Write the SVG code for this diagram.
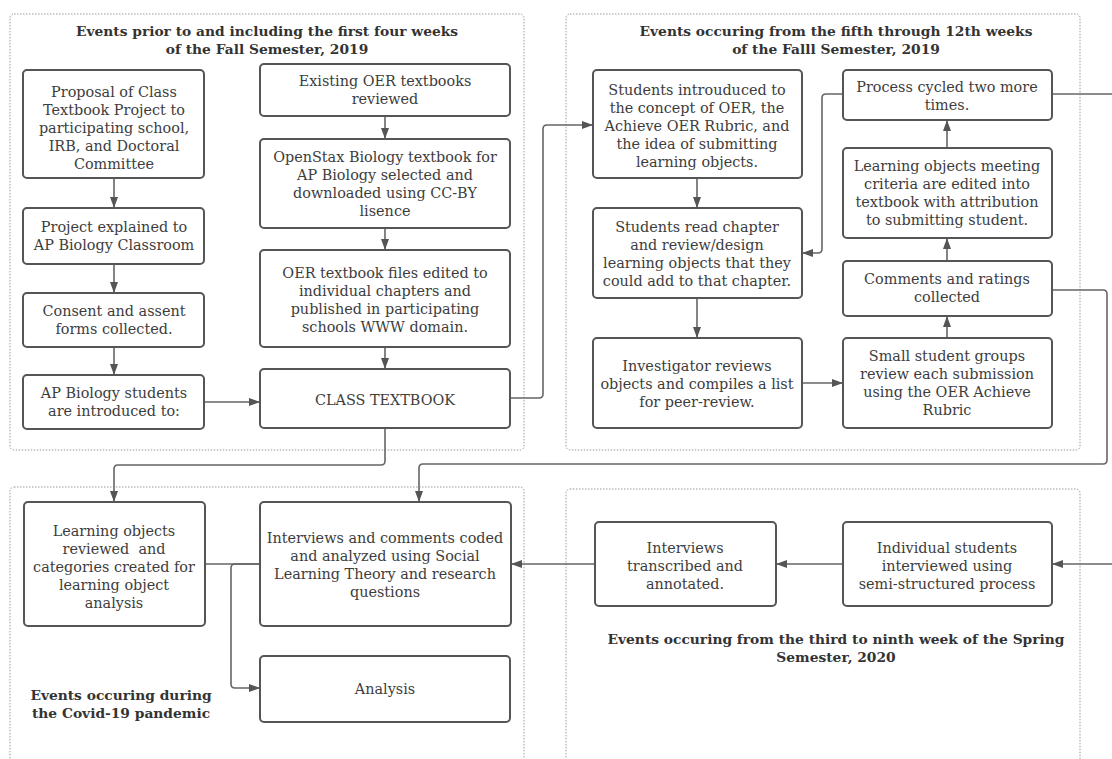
<svg xmlns="http://www.w3.org/2000/svg" width="1112" height="759" viewBox="0 0 1112 759">
<style>
.bg{fill:#ffffff}
.cont{fill:none;stroke:#9a9a9a;stroke-width:1;stroke-dasharray:1.5 1.5}
.box{fill:#ffffff;stroke:#555555;stroke-width:2}
.t{font-family:"DejaVu Serif","Liberation Serif",serif;font-size:14.4px;fill:#3d3d3d;text-anchor:middle}
.h{font-family:"DejaVu Serif","Liberation Serif",serif;font-size:13.8px;font-weight:bold;fill:#333333;text-anchor:middle}
.c{fill:none;stroke:#666666;stroke-width:1.6}
.a{marker-end:url(#ah)}
</style>
<defs>
<marker id="ah" markerWidth="11" markerHeight="10" refX="10" refY="5" orient="auto" markerUnits="userSpaceOnUse">
<path d="M0,1 L11,5 L0,9 z" fill="#555555"/>
</marker>
</defs>
<rect class="bg" x="0" y="0" width="1112" height="759"/>

<g id="containers">
<g id="grp-fall-first">
<rect class="cont" x="10" y="14" width="514" height="436" rx="4"/>
<text class="h" x="267" y="36">Events prior to and including the first four weeks</text>
<text class="h" x="267" y="54">of the Fall Semester, 2019</text>
</g>
<g id="grp-fall-later">
<rect class="cont" x="566" y="14" width="514" height="436" rx="4"/>
<text class="h" x="836" y="36">Events occuring from the fifth through 12th weeks</text>
<text class="h" x="836" y="54">of the Falll Semester, 2019</text>
</g>
<g id="grp-covid">
<rect class="cont" x="10" y="487" width="514" height="300" rx="4"/>
<text class="h" x="121" y="700">Events occuring during</text>
<text class="h" x="121" y="718">the Covid-19 pandemic</text>
</g>
<g id="grp-spring">
<rect class="cont" x="566" y="489" width="514" height="300" rx="4"/>
<text class="h" x="836" y="644">Events occuring from the third to ninth week of the Spring</text>
<text class="h" x="836" y="662">Semester, 2020</text>
</g>
</g>

<g id="connectors">
<path class="c a" d="M114,178 V207"/>
<path class="c a" d="M114,264 V292"/>
<path class="c a" d="M114,347 V374"/>
<path class="c a" d="M385,116 V138"/>
<path class="c a" d="M385,228 V249"/>
<path class="c a" d="M385,347 V368"/>
<path class="c a" d="M204,402 H259"/>
<path class="c a" d="M510,398 H539 Q543,398 543,394 V129 Q543,125 547,125 H592"/>
<path class="c a" d="M385,428 V461 Q385,465 381,465 H118 Q114,465 114,469 V501"/>
<path class="c a" d="M697,178 V207"/>
<path class="c a" d="M697,298 V337"/>
<path class="c a" d="M802,383 H842"/>
<path class="c a" d="M947,338 V317"/>
<path class="c a" d="M947,261 V239"/>
<path class="c a" d="M947,148 V121"/>
<path class="c a" d="M843,94 H826 Q822,94 822,98 V249 Q822,253 818,253 H803"/>
<path class="c" d="M1052,94 H1112"/>
<path class="c a" d="M1052,290 H1103 Q1107,290 1107,294 V460 Q1107,464 1103,464 H423 Q419,464 419,468 V501"/>
<path class="c a" d="M1112,564 H1053"/>
<path class="c a" d="M843,564 H777"/>
<path class="c a" d="M595,564 H512"/>
<path class="c" d="M205,564 H260"/>
<path class="c a" d="M260,564 H235 Q231,564 231,568 V684 Q231,688 235,688 H259"/>
</g>

<g id="n-proposal">
<rect class="box" x="23" y="70" width="181" height="108" rx="4"/>
<text class="t" x="114" y="97">Proposal of Class</text>
<text class="t" x="114" y="115">Textbook Project to</text>
<text class="t" x="114" y="133">participating school,</text>
<text class="t" x="114" y="151">IRB, and Doctoral</text>
<text class="t" x="114" y="169">Committee</text>
</g>
<g id="n-project">
<rect class="box" x="23" y="208" width="181" height="56" rx="4"/>
<text class="t" x="114" y="232">Project explained to</text>
<text class="t" x="114" y="250">AP Biology Classroom</text>
</g>
<g id="n-consent">
<rect class="box" x="23" y="293" width="181" height="54" rx="4"/>
<text class="t" x="114" y="316">Consent and assent</text>
<text class="t" x="114" y="334">forms collected.</text>
</g>
<g id="n-apstudents">
<rect class="box" x="23" y="375" width="181" height="54" rx="4"/>
<text class="t" x="114" y="398">AP Biology students</text>
<text class="t" x="114" y="416">are introduced to:</text>
</g>
<g id="n-existing">
<rect class="box" x="260" y="64" width="250" height="52" rx="4"/>
<text class="t" x="385" y="86">Existing OER textbooks</text>
<text class="t" x="385" y="104">reviewed</text>
</g>
<g id="n-openstax">
<rect class="box" x="260" y="139" width="250" height="89" rx="4"/>
<text class="t" x="385" y="162">OpenStax Biology textbook for</text>
<text class="t" x="385" y="180">AP Biology selected and</text>
<text class="t" x="385" y="198">downloaded using CC-BY</text>
<text class="t" x="385" y="216">lisence</text>
</g>
<g id="n-oerfiles">
<rect class="box" x="260" y="250" width="250" height="97" rx="4"/>
<text class="t" x="385" y="278">OER textbook files edited to</text>
<text class="t" x="385" y="296">individual chapters and</text>
<text class="t" x="385" y="314">published in participating</text>
<text class="t" x="385" y="332">schools WWW domain.</text>
</g>
<g id="n-classtextbook">
<rect class="box" x="260" y="369" width="250" height="59" rx="4"/>
<text class="t" x="385" y="405">CLASS TEXTBOOK</text>
</g>

<g id="n-intro">
<rect class="box" x="593" y="70" width="209" height="108" rx="4"/>
<text class="t" x="697" y="95">Students introuduced to</text>
<text class="t" x="697" y="113">the concept of OER, the</text>
<text class="t" x="697" y="131">Achieve OER Rubric, and</text>
<text class="t" x="697" y="149">the idea of submitting</text>
<text class="t" x="697" y="167">learning objects.</text>
</g>
<g id="n-read">
<rect class="box" x="593" y="208" width="209" height="90" rx="4"/>
<text class="t" x="697" y="232">Students read chapter</text>
<text class="t" x="697" y="250">and review/design</text>
<text class="t" x="697" y="268">learning objects that they</text>
<text class="t" x="697" y="286">could add to that chapter.</text>
</g>
<g id="n-investigator">
<rect class="box" x="593" y="338" width="209" height="90" rx="4"/>
<text class="t" x="697" y="371">Investigator reviews</text>
<text class="t" x="697" y="389">objects and compiles a list</text>
<text class="t" x="697" y="407">for peer-review.</text>
</g>
<g id="n-process">
<rect class="box" x="843" y="70" width="209" height="50" rx="4"/>
<text class="t" x="947" y="92">Process cycled two more</text>
<text class="t" x="947" y="110">times.</text>
</g>
<g id="n-meeting">
<rect class="box" x="843" y="148" width="209" height="90" rx="4"/>
<text class="t" x="947" y="171">Learning objects meeting</text>
<text class="t" x="947" y="189">criteria are edited into</text>
<text class="t" x="947" y="207">textbook with attribution</text>
<text class="t" x="947" y="225">to submitting student.</text>
</g>
<g id="n-comments">
<rect class="box" x="843" y="261" width="209" height="55" rx="4"/>
<text class="t" x="947" y="284">Comments and ratings</text>
<text class="t" x="947" y="302">collected</text>
</g>
<g id="n-small">
<rect class="box" x="843" y="338" width="209" height="90" rx="4"/>
<text class="t" x="947" y="361">Small student groups</text>
<text class="t" x="947" y="379">review each submission</text>
<text class="t" x="947" y="397">using the OER Achieve</text>
<text class="t" x="947" y="415">Rubric</text>
</g>

<g id="n-loreviewed">
<rect class="box" x="24" y="502" width="181" height="124" rx="4"/>
<text class="t" x="114" y="536">Learning objects</text>
<text class="t" x="114" y="554" xml:space="preserve">reviewed  and</text>
<text class="t" x="114" y="572">categories created for</text>
<text class="t" x="114" y="590">learning object</text>
<text class="t" x="114" y="608">analysis</text>
</g>
<g id="n-coded">
<rect class="box" x="260" y="502" width="251" height="124" rx="4"/>
<text class="t" x="385" y="543">Interviews and comments coded</text>
<text class="t" x="385" y="561">and analyzed using Social</text>
<text class="t" x="385" y="579">Learning Theory and research</text>
<text class="t" x="385" y="597">questions</text>
</g>
<g id="n-analysis">
<rect class="box" x="260" y="656" width="250" height="66" rx="4"/>
<text class="t" x="385" y="694">Analysis</text>
</g>
<g id="n-transcribed">
<rect class="box" x="595" y="522" width="181" height="84" rx="4"/>
<text class="t" x="685" y="553">Interviews</text>
<text class="t" x="685" y="571">transcribed and</text>
<text class="t" x="685" y="589">annotated.</text>
</g>
<g id="n-individual">
<rect class="box" x="843" y="522" width="209" height="84" rx="4"/>
<text class="t" x="947" y="553">Individual students</text>
<text class="t" x="947" y="571">interviewed using</text>
<text class="t" x="947" y="589">semi-structured process</text>
</g>
</svg>
